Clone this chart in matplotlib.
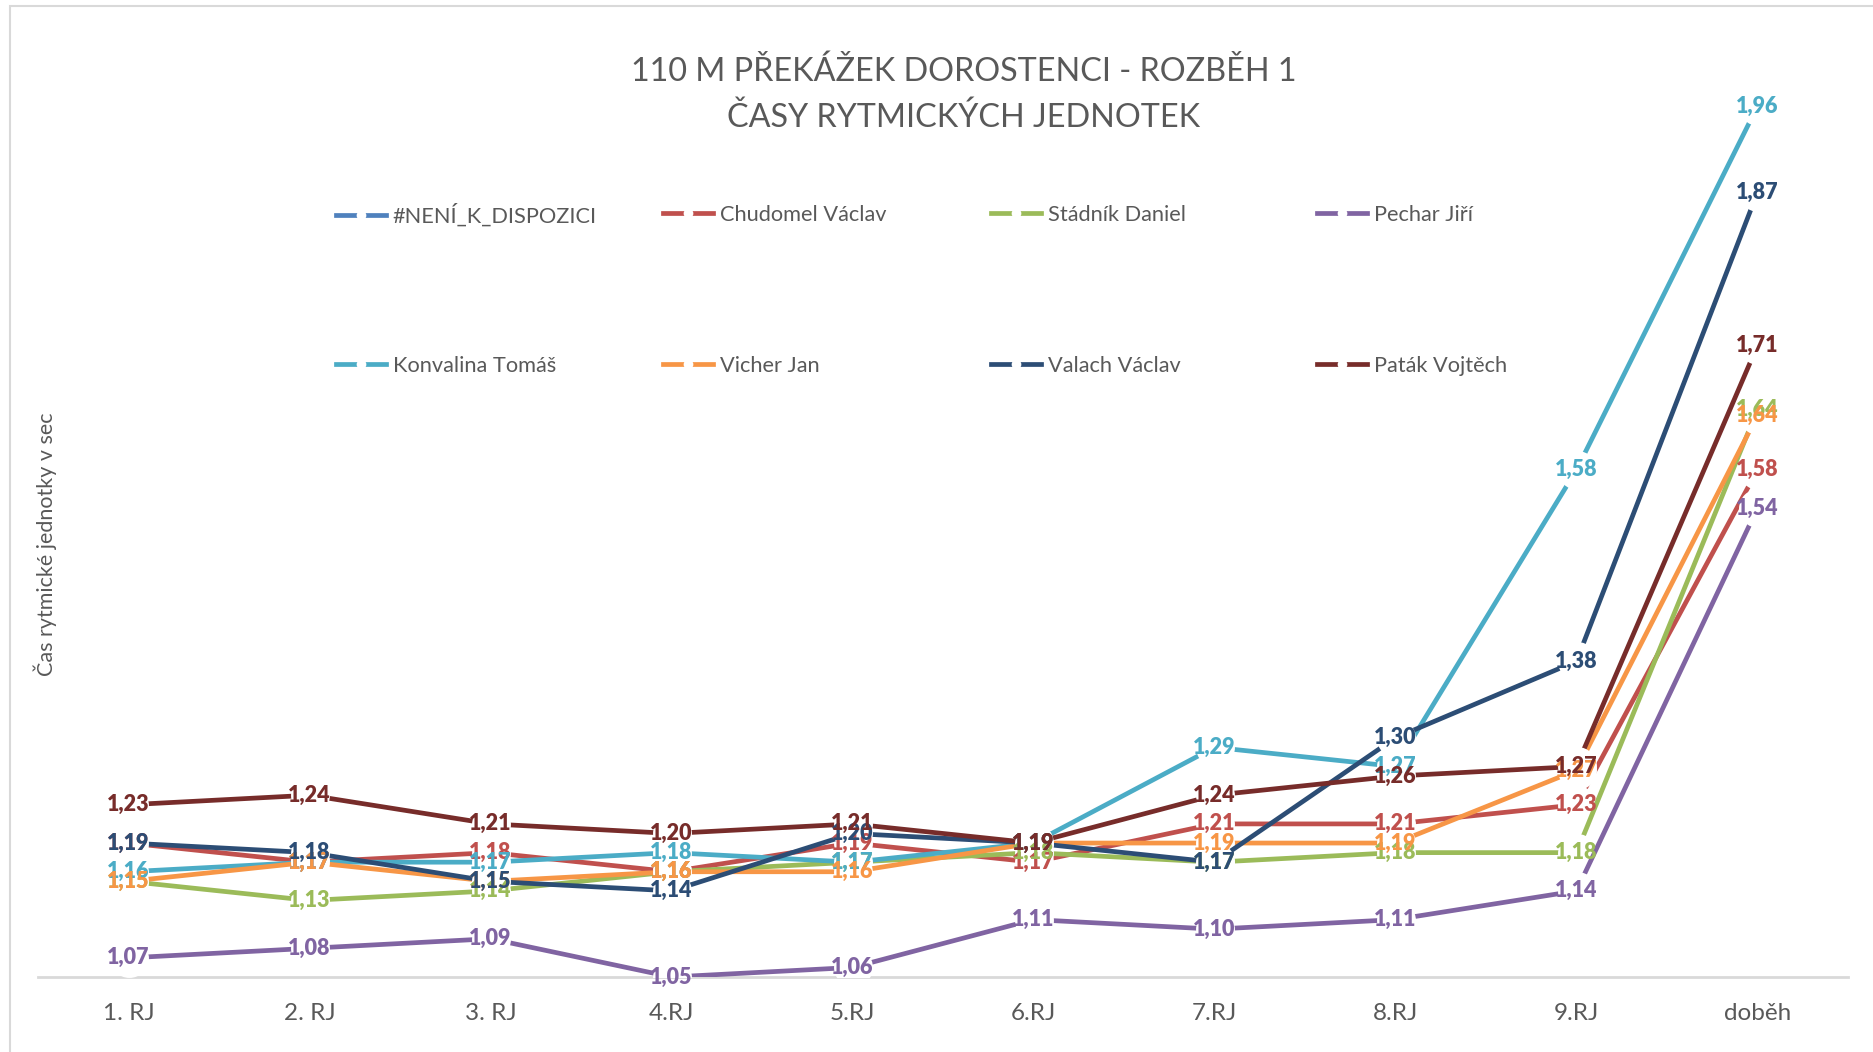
import matplotlib
matplotlib.use('Agg')
import matplotlib.pyplot as plt
from matplotlib.lines import Line2D
from matplotlib.patches import Rectangle

plt.rcParams['font.family'] = ['Lato', 'Open Sans', 'DejaVu Sans']

# ── data ──────────────────────────────────────────────────────────────────────
categories = ['1. RJ', '2. RJ', '3. RJ', '4.RJ', '5.RJ', '6.RJ', '7.RJ', '8.RJ', '9.RJ', 'doběh']

names = ['#NENÍ_K_DISPOZICI', 'Chudomel Václav', 'Stádník Daniel', 'Pechar Jiří',
         'Konvalina Tomáš', 'Vicher Jan', 'Valach Václav', 'Paták Vojtěch']

neni      = []  # no data, legend only
chudomel  = [1.19, 1.17, 1.18, 1.16, 1.19, 1.17, 1.21, 1.21, 1.23, 1.58]
stadnik   = [1.15, 1.13, 1.14, 1.16, 1.17, 1.18, 1.17, 1.18, 1.18, 1.643]
pechar    = [1.07, 1.08, 1.09, 1.05, 1.06, 1.11, 1.10, 1.11, 1.14, 1.54]
konvalina = [1.16, 1.17, 1.17, 1.18, 1.17, 1.19, 1.29, 1.27, 1.58, 1.96]
vicher    = [1.15, 1.17, 1.15, 1.16, 1.16, 1.19, 1.19, 1.19, 1.266, 1.637]
valach    = [1.19, 1.18, 1.15, 1.14, 1.20, 1.19, 1.17, 1.30, 1.38, 1.87]
patak     = [1.23, 1.24, 1.21, 1.20, 1.21, 1.19, 1.24, 1.26, 1.27, 1.71]

series = [neni, chudomel, stadnik, pechar, konvalina, vicher, valach, patak]
colors = ['#4F81BD', '#C0504D', '#9BBB59', '#8064A2',
          '#4BACC6', '#F79646', '#2C4D75', '#772C2A']

GREY = '#595959'
W, H = 1874, 1052

# ── figure ────────────────────────────────────────────────────────────────────
fig = plt.figure(figsize=(W / 100, H / 100), dpi=100)
fig.patch.set_facecolor('white')
fig.patches.append(Rectangle((10 / W, -0.05), 1.2, 1 - 6 / H + 0.05,
                             transform=fig.transFigure, fill=False,
                             ec='#D9D9D9', lw=1.5))

ax = fig.add_axes([38 / W, (H - 977) / H, (1848 - 38) / W, (977 - 68) / H])
ax.set_facecolor('none')

x = list(range(len(categories)))
handles = []
for name, vals, col in zip(names, series, colors):
    if vals:
        ax.plot(x[:len(vals)], vals, color=col, lw=3.4, marker='o', ms=28,
                mfc='white', mec='none', solid_capstyle='butt', zorder=3)
    handles.append(Line2D([], [], color=col, lw=3.4, marker='o', ms=7,
                          mfc='white', mec='none'))

# data labels (later series on top)
for k, (vals, col) in enumerate(zip(series, colors)):
    for xi, v in zip(x, vals):
        ax.text(xi, v, f'{v:.2f}'.replace('.', ','), color=col,
                fontsize=15.5, fontweight='heavy', ha='center', va='center',
                zorder=10 + k)

ax.set_xlim(-0.5, len(categories) - 0.5)
ax.set_ylim(1.05, 2.0)
for s in ('top', 'right', 'left'):
    ax.spines[s].set_visible(False)
ax.spines['bottom'].set_color('#D9D9D9')
ax.spines['bottom'].set_linewidth(2)
ax.spines['bottom'].set_zorder(1)
ax.set_yticks([])
ax.set_xticks(x)
ax.set_xticklabels(categories, fontsize=17.5, color=GREY)
ax.tick_params(axis='x', length=0, pad=19)

# title
fig.text(964 / W, 1 - 72 / H, '110 M PŘEKÁŽEK DOROSTENCI - ROZBĚH 1',
         ha='center', va='center', fontsize=23.3, color=GREY)
fig.text(964 / W, 1 - 118 / H, 'ČASY RYTMICKÝCH JEDNOTEK',
         ha='center', va='center', fontsize=23.3, color=GREY)

# y label
fig.text(45 / W, 1 - 544 / H, 'Čas rytmické jednotky v sec', rotation=90,
         ha='center', va='center', fontsize=15.5, color=GREY)

# legend: 2 rows x 4 columns
leg_x = [336, 663, 991, 1317]
leg_y = [215, 366]
for i, (h, name) in enumerate(zip(handles, names)):
    fig.legend([h], [name], loc='center left',
               bbox_to_anchor=(leg_x[i % 4] / W, 1 - leg_y[i // 4] / H),
               frameon=False, fontsize=15.7, labelcolor=GREY,
               handlelength=2.3, handletextpad=0.3,
               borderpad=0, borderaxespad=0)

fig.savefig('out.png', dpi=100, facecolor='white')
